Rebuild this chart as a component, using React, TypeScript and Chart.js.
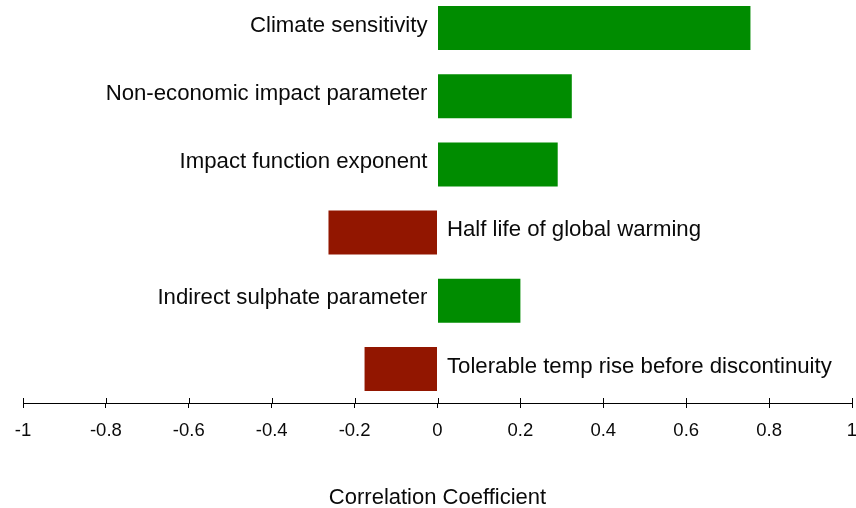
import React, { useEffect, useRef } from "react";
import { Chart, registerables } from "chart.js";

Chart.register(...registerables);

const categories = [
  "Climate sensitivity",
  "Non-economic impact parameter",
  "Impact function exponent",
  "Half life of global warming",
  "Indirect sulphate parameter",
  "Tolerable temp rise before discontinuity",
];
const correlations = [0.755, 0.324, 0.29, -0.263, 0.2, -0.176];
const xTickValues = [-1, -0.8, -0.6, -0.4, -0.2, 0, 0.2, 0.4, 0.6, 0.8, 1];
const axisTitle = "Correlation Coefficient";

const GREEN = "#008c00";
const RED = "#921600";
const FONT = "'Liberation Sans', Arial, sans-serif";

const barLabels = {
  id: "barLabels",
  afterDatasetsDraw(chart: any) {
    const ctx = chart.ctx;
    const xs = chart.scales.x;
    const zero = xs.getPixelForValue(0);
    const meta = chart.getDatasetMeta(0);
    ctx.save();
    ctx.font = `22.2px ${FONT}`;
    ctx.fillStyle = "#0a0a0a";
    ctx.textBaseline = "middle";
    meta.data.forEach((bar: any, i: number) => {
      const v = correlations[i];
      const y = bar.y - 2.5;
      if (v >= 0) {
        ctx.textAlign = "right";
        ctx.fillText(categories[i], zero - 10, y);
      } else {
        ctx.textAlign = "left";
        ctx.fillText(categories[i], zero + 9.5, y);
      }
    });
    ctx.restore();
  },
};

const upTicks = {
  id: "upTicks",
  afterDraw(chart: any) {
    const ctx = chart.ctx;
    const xs = chart.scales.x;
    const yAxis = xs.top;
    ctx.save();
    ctx.strokeStyle = "#000";
    ctx.lineWidth = 1;
    xs.ticks.forEach((t: any) => {
      const px = Math.round(xs.getPixelForValue(t.value)) + 0.5;
      ctx.beginPath();
      ctx.moveTo(px, yAxis);
      ctx.lineTo(px, yAxis - 5);
      ctx.stroke();
    });
    ctx.restore();
  },
};

export default function App() {
  const ref = useRef<HTMLCanvasElement | null>(null);
  useEffect(() => {
    document.body.style.margin = "0";
    document.body.style.overflow = "hidden";
    const canvas = ref.current!;
    const chart = new Chart(canvas, {
      type: "bar",
      data: {
        labels: categories,
        datasets: [
          {
            data: correlations,
            backgroundColor: correlations.map((v) => (v >= 0 ? GREEN : RED)),
            borderWidth: 0,
            barPercentage: 0.645,
            categoryPercentage: 1,
          },
        ],
      },
      options: {
        indexAxis: "y",
        responsive: false,
        animation: false,
        devicePixelRatio: 1,
        layout: { padding: { left: 23, right: 18, top: 0, bottom: 0 } },
        plugins: {
          legend: { display: false },
          tooltip: { enabled: false },
          title: { display: false },
        },
        scales: {
          y: { display: false },
          x: {
            type: "linear",
            min: -1,
            max: 1,
            afterBuildTicks: (scale: any) => {
              scale.ticks = xTickValues.map((v) => ({ value: v }));
            },
            afterFit: (scale: any) => {
              scale.height = 106;
              scale.paddingLeft = 0;
              scale.paddingRight = 0;
            },
            border: { display: true, color: "#000", width: 1 },
            grid: {
              display: true,
              drawOnChartArea: false,
              drawTicks: true,
              tickLength: 5,
              color: "#000",
            },
            ticks: {
              font: { family: FONT, size: 18.5 },
              color: "#0a0a0a",
              padding: 12,
              maxRotation: 0,
              autoSkip: false,
              callback: (v: any) => String(Number(v)),
            },
            title: {
              display: true,
              text: axisTitle,
              color: "#0a0a0a",
              font: { family: FONT, size: 22, lineHeight: 1 },
              padding: { top: 0, bottom: 0 },
            },
          },
        },
      },
      plugins: [barLabels, upTicks],
    });
    return () => chart.destroy();
  }, []);
  return (
    <div style={{ position: "fixed", left: 0, top: 0, width: 856, height: 508, overflow: "hidden", background: "#fff" }}>
      <canvas ref={ref} width={870} height={515} style={{ position: "absolute", left: 0, top: -6, width: 870, height: 515 }} />
    </div>
  );
}
